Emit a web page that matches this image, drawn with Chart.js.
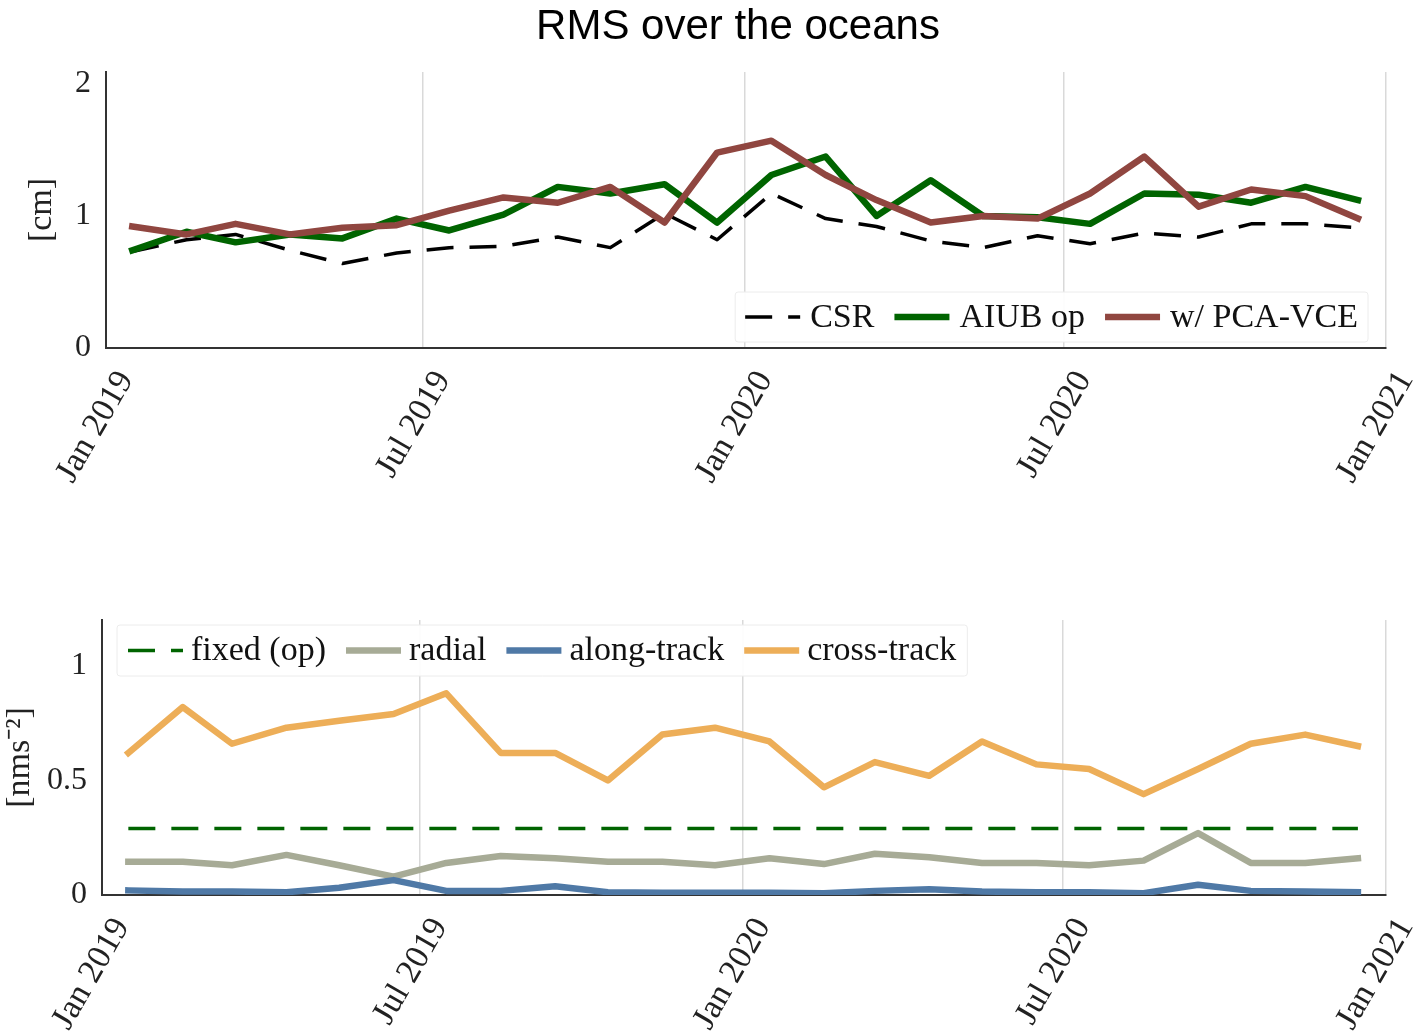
<!DOCTYPE html>
<html>
<head>
<meta charset="utf-8">
<script src="https://cdn.jsdelivr.net/npm/chart.js@4.4.1/dist/chart.umd.min.js"></script>
<style>
  html, body { margin: 0; padding: 0; background: #fff; }
  body { width: 1427px; height: 1034px; position: relative; overflow: hidden; }
  #title { position: absolute; left: 0; top: 4px; width: 1476px; text-align: center;
           font: 42px/42px "Liberation Sans", Arial, sans-serif; color: #000; }
  #topBox { position: absolute; left: 0; top: 0; width: 1427px; height: 520px; }
  #bottomBox { position: absolute; left: 0; top: 540px; width: 1427px; height: 494px; }
</style>
</head>
<body>
<div id="topBox"><canvas id="rmsChart"></canvas></div>
<div id="bottomBox"><canvas id="accChart"></canvas></div>
<div id="title">RMS over the oceans</div>
<script>
// Monthly epochs (mid-month)
const months = [
  '2019-01-16','2019-02-16','2019-03-16','2019-04-16','2019-05-16','2019-06-16',
  '2019-07-16','2019-08-16','2019-09-16','2019-10-16','2019-11-16','2019-12-16',
  '2020-01-16','2020-02-16','2020-03-16','2020-04-16','2020-05-16','2020-06-16',
  '2020-07-16','2020-08-16','2020-09-16','2020-10-16','2020-11-16','2020-12-16'
];

// Axis ticks
const tickDates  = ['2019-01-01','2019-07-01','2020-01-01','2020-07-01','2021-01-01'];
const tickLabels = ['Jan 2019','Jul 2019','Jan 2020','Jul 2020','Jan 2021'];
const rmsTicks   = [0, 1, 2];
const rmsTickLabels = ['0', '1', '2'];
const accTicks   = [0, 0.5, 1];
const accTickLabels = ['0', '0.5', '1'];

// RMS over the oceans [cm]
const csr = [0.73, 0.82, 0.86, 0.74, 0.64, 0.72, 0.76, 0.77, 0.84, 0.76, 1.02, 0.82,
             1.17, 0.98, 0.92, 0.81, 0.76, 0.85, 0.79, 0.87, 0.84, 0.94, 0.94, 0.91];
const aiubOp = [0.74, 0.88, 0.80, 0.86, 0.83, 0.98, 0.89, 1.01, 1.22, 1.17, 1.24, 0.95,
                1.31, 1.45, 1.00, 1.27, 1.00, 0.99, 0.94, 1.17, 1.16, 1.10, 1.22, 1.12];
const pcaVce = [0.92, 0.86, 0.94, 0.86, 0.91, 0.93, 1.04, 1.14, 1.10, 1.22, 0.95, 1.48,
                1.57, 1.31, 1.12, 0.95, 1.00, 0.98, 1.17, 1.45, 1.07, 1.20, 1.15, 0.98];

// Accelerometer noise level [nm s^-2]
const fixedOp = [0.29, 0.29, 0.29, 0.29, 0.29, 0.29, 0.29, 0.29, 0.29, 0.29, 0.29, 0.29,
                 0.29, 0.29, 0.29, 0.29, 0.29, 0.29, 0.29, 0.29, 0.29, 0.29, 0.29, 0.29];
const radial = [0.145, 0.145, 0.13, 0.175, 0.13, 0.08, 0.14, 0.17, 0.16, 0.145, 0.145, 0.13,
                0.16, 0.135, 0.18, 0.165, 0.14, 0.14, 0.13, 0.15, 0.27, 0.14, 0.14, 0.16];
const alongTrack = [0.02, 0.015, 0.015, 0.012, 0.032, 0.065, 0.018, 0.018, 0.038, 0.012, 0.01, 0.01,
                    0.01, 0.008, 0.018, 0.025, 0.015, 0.012, 0.012, 0.008, 0.045, 0.018, 0.015, 0.012];
const crossTrack = [0.62, 0.82, 0.66, 0.73, 0.76, 0.79, 0.88, 0.62, 0.62, 0.50, 0.70, 0.73,
                    0.67, 0.47, 0.58, 0.52, 0.67, 0.57, 0.55, 0.44, 0.55, 0.66, 0.70, 0.65];

const SERIF = '"Liberation Serif", "Times New Roman", serif';
const epoch0 = Date.parse(tickDates[0]);
const dayOf = s => (Date.parse(s) - epoch0) / 86400000;
const series = vals => months.map((m, i) => ({ x: dayOf(m), y: vals[i] }));

// Legend drawn inside the plotting area
const insetLegend = {
  id: 'insetLegend',
  afterDraw(chart, args, opts) {
    const ctx = chart.ctx, area = chart.chartArea;
    ctx.save();
    ctx.font = opts.font;
    const items = chart.data.datasets.map(ds => ({
      label: ds.label, color: ds.borderColor, width: ds.borderWidth,
      dash: ds.borderDash || []
    }));
    let w = opts.padding * 2;
    items.forEach((it, i) => {
      it.tw = ctx.measureText(it.label).width;
      w += opts.sample + opts.textGap + it.tw + (i < items.length - 1 ? opts.itemGap : 0);
    });
    const h = opts.height;
    const x0 = opts.corner === 'bottom-right' ? area.right - opts.offsetX - w : area.left + opts.offsetX;
    const y0 = opts.corner === 'bottom-right' ? area.bottom - opts.offsetY - h : area.top + opts.offsetY;
    ctx.beginPath();
    ctx.roundRect(x0, y0, w, h, 3);
    ctx.fillStyle = 'rgba(255,255,255,0.95)';
    ctx.fill();
    ctx.lineWidth = 1;
    ctx.strokeStyle = '#ececec';
    ctx.stroke();
    const cy = y0 + h / 2;
    let x = x0 + opts.padding;
    items.forEach(it => {
      ctx.beginPath();
      ctx.setLineDash(it.dash);
      ctx.lineWidth = it.width;
      ctx.strokeStyle = it.color;
      ctx.lineCap = 'butt';
      ctx.moveTo(x, cy);
      ctx.lineTo(x + opts.sample, cy);
      ctx.stroke();
      ctx.setLineDash([]);
      x += opts.sample + opts.textGap;
      ctx.fillStyle = '#111';
      ctx.textBaseline = 'middle';
      ctx.textAlign = 'left';
      ctx.fillText(it.label, x, cy + 1);
      x += it.tw + opts.itemGap;
    });
    ctx.restore();
  }
};

function xAxis(height) {
  return {
    type: 'linear',
    min: dayOf(tickDates[0]),
    max: dayOf(tickDates[tickDates.length - 1]),
    afterBuildTicks: s => { s.ticks = tickDates.map(d => ({ value: dayOf(d) })); },
    afterFit: s => { s.height = height; s.paddingLeft = 0; s.paddingRight = 0; },
    grid: { display: true, color: '#d9d9d9', lineWidth: 1.5, drawTicks: false },
    border: { display: true, color: '#333', width: 2 },
    ticks: {
      autoSkip: false, minRotation: 60, maxRotation: 60, padding: 16, labelOffset: 20,
      color: '#222', font: { family: SERIF, size: 34 },
      callback: (v, i) => tickLabels[i]
    }
  };
}

function yAxis(width, max, ticks, labels, title, titlePad) {
  return {
    type: 'linear', min: 0, max: max,
    afterBuildTicks: s => { s.ticks = ticks.map(v => ({ value: v })); },
    afterFit: s => { s.width = width; },
    grid: { display: false, drawTicks: false },
    border: { display: true, color: '#333', width: 2 },
    ticks: {
      padding: 15, color: '#222', font: { family: SERIF, size: 32 },
      callback: (v, i) => labels[i]
    },
    title: {
      display: true, text: title, color: '#222',
      font: { family: SERIF, size: 34 }, padding: { top: titlePad, bottom: 0 }
    }
  };
}

const lineDefaults = { pointRadius: 0, tension: 0, fill: false, borderJoinStyle: 'round' };

new Chart(document.getElementById('rmsChart'), {
  type: 'line',
  data: {
    datasets: [
      { ...lineDefaults, label: 'CSR', data: series(csr), borderColor: '#000000',
        borderWidth: 3.5, borderDash: [27, 16], borderCapStyle: 'butt', order: 3 },
      { ...lineDefaults, label: 'AIUB op', data: series(aiubOp), borderColor: '#006400',
        borderWidth: 6.5, borderCapStyle: 'square', order: 2 },
      { ...lineDefaults, label: 'w/ PCA-VCE', data: series(pcaVce), borderColor: '#904640',
        borderWidth: 6.5, borderCapStyle: 'square', order: 1 }
    ]
  },
  options: {
    responsive: true, maintainAspectRatio: false, animation: false,
    layout: { padding: { top: 72, left: 0, right: 41, bottom: 0 } },
    scales: {
      x: xAxis(172),
      y: yAxis(106, 2.09, rmsTicks, rmsTickLabels, '[cm]', 22)
    },
    plugins: {
      legend: { display: false },
      tooltip: { enabled: false },
      insetLegend: {
        corner: 'bottom-right', offsetX: 18, offsetY: 6, height: 50,
        padding: 10, sample: 55, textGap: 10, itemGap: 20,
        font: '34px ' + SERIF
      }
    }
  },
  plugins: [insetLegend]
});

new Chart(document.getElementById('accChart'), {
  type: 'line',
  data: {
    datasets: [
      { ...lineDefaults, label: 'fixed (op)', data: series(fixedOp), borderColor: '#006400',
        borderWidth: 3.5, borderDash: [27, 16], borderCapStyle: 'butt', order: 4 },
      { ...lineDefaults, label: 'radial', data: series(radial), borderColor: '#a7ab96',
        borderWidth: 6.5, borderCapStyle: 'square', order: 3 },
      { ...lineDefaults, label: 'along-track', data: series(alongTrack), borderColor: '#4f79a6',
        borderWidth: 6.5, borderCapStyle: 'square', order: 2 },
      { ...lineDefaults, label: 'cross-track', data: series(crossTrack), borderColor: '#edae58',
        borderWidth: 6.5, borderCapStyle: 'square', order: 1 }
    ]
  },
  options: {
    responsive: true, maintainAspectRatio: false, animation: false,
    layout: { padding: { top: 80, left: 0, right: 41, bottom: 0 } },
    scales: {
      x: xAxis(139),
      y: yAxis(102, 1.2, accTicks, accTickLabels, '[nms\u207B\u00B2]', 0)
    },
    plugins: {
      legend: { display: false },
      tooltip: { enabled: false },
      insetLegend: {
        corner: 'top-left', offsetX: 15, offsetY: 5, height: 51,
        padding: 11, sample: 55, textGap: 8, itemGap: 20,
        font: '34px ' + SERIF
      }
    }
  },
  plugins: [insetLegend]
});
</script>
</body>
</html>
